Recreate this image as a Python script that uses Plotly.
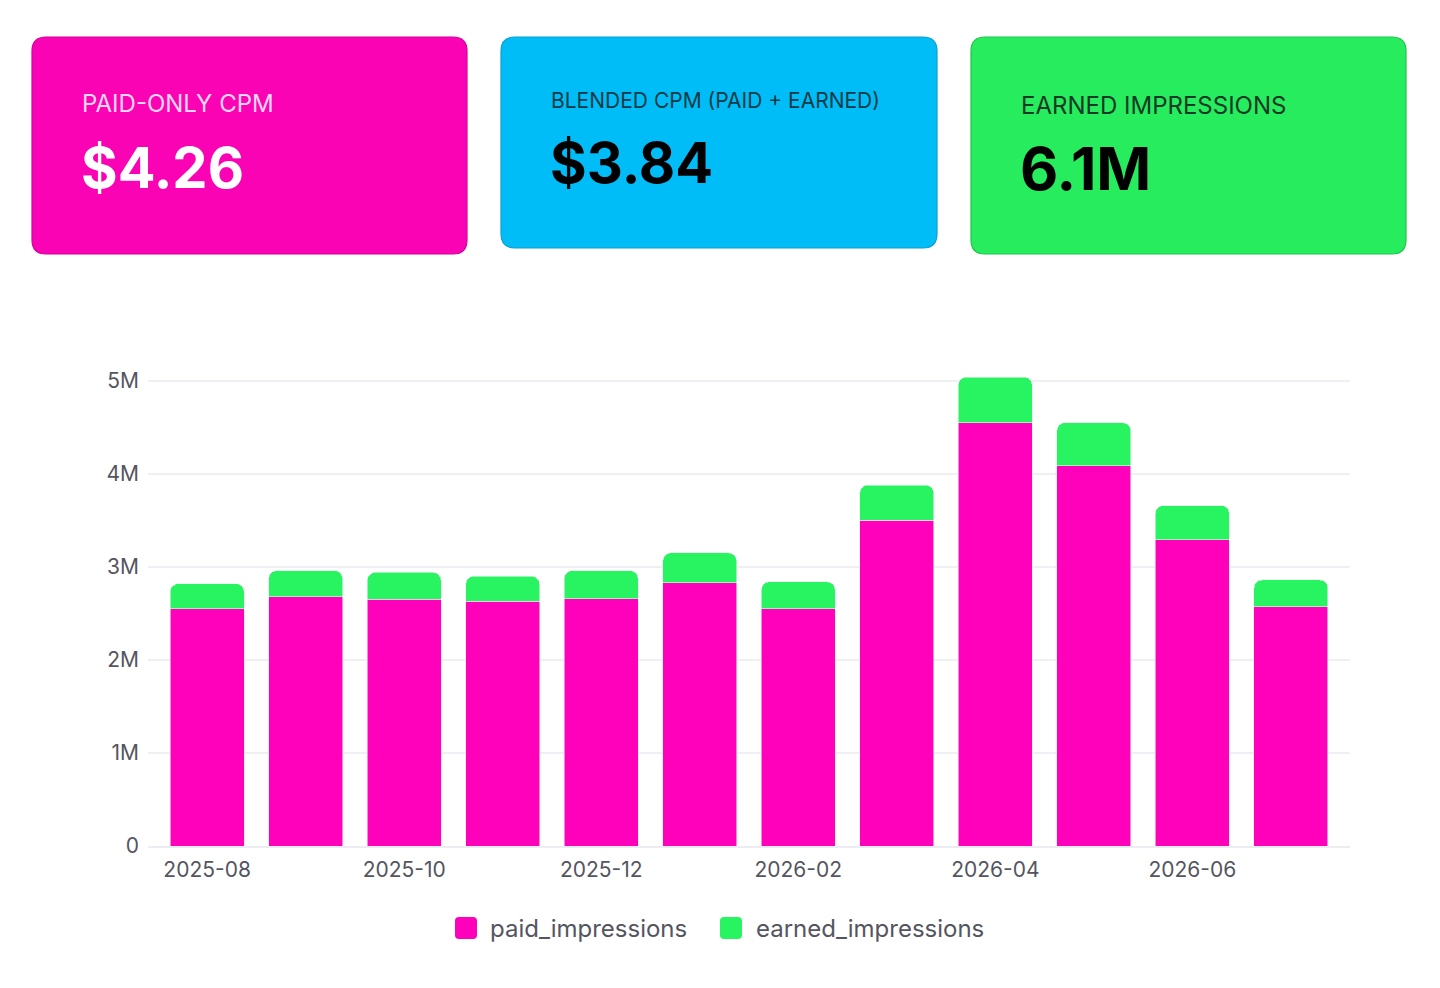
import plotly.graph_objects as go

months = ["2025-08", "2025-09", "2025-10", "2025-11", "2025-12", "2026-01",
          "2026-02", "2026-03", "2026-04", "2026-05", "2026-06", "2026-07"]
paid_impressions = [2.55e6, 2.68e6, 2.65e6, 2.63e6, 2.66e6, 2.83e6,
                    2.55e6, 3.50e6, 4.55e6, 4.09e6, 3.29e6, 2.57e6]
earned_impressions = [0.27e6, 0.28e6, 0.29e6, 0.27e6, 0.30e6, 0.32e6,
                      0.29e6, 0.38e6, 0.49e6, 0.46e6, 0.37e6, 0.29e6]
tick_months = months[::2]

card_labels = ["PAID-ONLY CPM", "BLENDED CPM (PAID + EARNED)", "EARNED IMPRESSIONS"]
card_values = ["$4.26", "$3.84", "6.1M"]
series_names = ["paid_impressions", "earned_impressions"]

PINK = "#ff00bb"
GREEN = "#28f462"
FONT = "Inter, Open Sans, sans-serif"
TXT = "#55555f"

# plot area as seen on the page (page is 1440 x 988, body adds an 8px offset)
L, R, T, B = 148, 1350, 352, 846
OFF = 8


def px(x, y):
    return (x - L) / (R - L), (B - y) / (B - T)


def rounded_path(x0, y0, x1, y1, r=14):
    ax, ay = px(x0, y0)
    bx, by = px(x1, y1)
    rx = r / (R - L)
    ry = r / (B - T)
    return (f"M {ax + rx},{ay} L {bx - rx},{ay} Q {bx},{ay} {bx},{ay - ry} "
            f"L {bx},{by + ry} Q {bx},{by} {bx - rx},{by} L {ax + rx},{by} "
            f"Q {ax},{by} {ax},{by + ry} L {ax},{ay - ry} Q {ax},{ay} {ax + rx},{ay} Z")


fig = go.Figure()
fig.add_trace(go.Bar(x=months, y=paid_impressions, name=series_names[0], showlegend=False,
                     marker=dict(color=PINK, line=dict(color="#f4e6f0", width=0.6))))
fig.add_trace(go.Bar(x=months, y=earned_impressions, name=series_names[1], showlegend=False,
                     marker=dict(color=GREEN, line=dict(color="#e6f4ea", width=0.6))))

cards = [
    dict(box=(32, 37, 467, 254), fill="#fa03b4", line="#d6009c",
         lab_xy=(82, 104), lab_col="#ffd6f0", lab_size=24,
         val_xy=(82, 168), val_col="#ffffff", val_size=56),
    dict(box=(501, 37, 937, 248), fill="#00bdf8", line="#0a9fd0",
         lab_xy=(551, 101), lab_col="#0c3a44", lab_size=21,
         val_xy=(551, 163), val_col="#000000", val_size=56),
    dict(box=(971, 37, 1406, 254), fill="#27ec5e", line="#1fc44c",
         lab_xy=(1021, 105), lab_col="#123a26", lab_size=24,
         val_xy=(1021, 169), val_col="#000000", val_size=59),
]

for c, lab, val in zip(cards, card_labels, card_values):
    fig.add_shape(type="path", path=rounded_path(*c["box"]), xref="paper", yref="paper",
                  fillcolor=c["fill"], line=dict(color=c["line"], width=1.2), layer="below")
    lx, ly = px(*c["lab_xy"])
    fig.add_annotation(x=lx, y=ly, xref="paper", yref="paper", text=lab, showarrow=False,
                       xanchor="left", yanchor="middle", xshift=-2,
                       font=dict(family=FONT, size=c["lab_size"], color=c["lab_col"]))
    vx, vy = px(*c["val_xy"])
    fig.add_annotation(x=vx, y=vy, xref="paper", yref="paper", text=f"<b>{val}</b>",
                       showarrow=False, xanchor="left", yanchor="middle", xshift=-3,
                       font=dict(family=FONT, size=c["val_size"], color=c["val_col"]))

# legend drawn by hand so the swatches match the rounded squares
legend_items = [(455, 477, 490, PINK), (720, 742, 756, GREEN)]
for (s0, s1, tx, col), name in zip(legend_items, series_names):
    fig.add_shape(type="path", path=rounded_path(s0, 917, s1, 939, r=4), xref="paper",
                  yref="paper", fillcolor=col, line=dict(width=0))
    ax, ay = px(tx, 928)
    fig.add_annotation(x=ax, y=ay, xref="paper", yref="paper", text=name, showarrow=False,
                       xanchor="left", yanchor="middle", xshift=-2,
                       font=dict(family=FONT, size=24, color=TXT))

fig.update_layout(
    width=1440, height=988,
    margin=dict(l=L - OFF, r=1440 - R + OFF, t=T - OFF, b=988 - B + OFF),
    barmode="stack", bargap=0.25, barcornerradius=8,
    plot_bgcolor="white", paper_bgcolor="white",
    font=dict(family=FONT, size=20, color=TXT),
    showlegend=False,
)
fig.update_xaxes(type="category", range=[-0.6, 11.6], tickmode="array",
                 tickvals=tick_months, ticktext=tick_months, showgrid=False,
                 showline=True, linecolor="#ececf2", linewidth=1.5, ticks="",
                 ticklabelstandoff=4, tickfont=dict(size=21, color=TXT))
fig.update_yaxes(range=[0, 5.31e6], dtick=1e6, tickformat="~s", showgrid=True,
                 gridcolor="#efeff4", gridwidth=1.5, zeroline=False, ticks="",
                 ticklabelstandoff=8, tickfont=dict(size=21, color=TXT))

fig.write_html("out.html")
